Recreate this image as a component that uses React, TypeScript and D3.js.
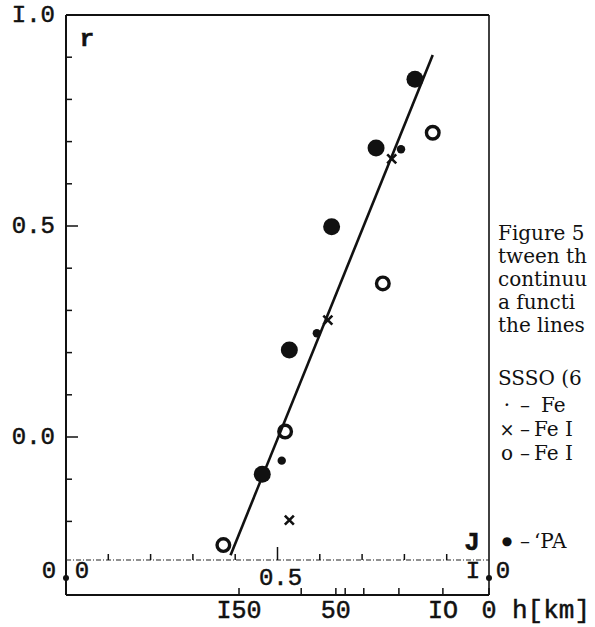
import React from 'react';
import * as d3 from 'd3';

// r axis (left)
const rTickValues = [-0.2, -0.1, 0.0, 0.1, 0.2, 0.3, 0.4, 0.5, 0.6, 0.7, 0.8, 0.9];
const rMajor = [0.0, 0.5];
const rLabelValues = [1.0, 0.5, 0.0];
const rLabelTexts = ['I.0', '0.5', '0.0'];

// J axis (dotted, inside)
const jTickValues = [0.1, 0.2, 0.3, 0.4, 0.5, 0.6, 0.7, 0.8, 0.9];

// h axis (bottom), expressed against J
const hTicks = [150, 100, 50, 40, 30, 20, 10, 0];
const hAsJ = [0.409, 0.556, 0.638, 0.66, 0.704, 0.787, 0.891, 1.0];
const hLabelValues = [150, 50, 10, 0];
const hLabelTexts = ['I50', '50', 'IO', '0'];

// series  (J, r)
const paJ = [0.825, 0.733, 0.628, 0.528, 0.464];
const paR = [0.848, 0.685, 0.498, 0.206, -0.088];
const feDotJ = [0.792, 0.593, 0.51];
const feDotR = [0.682, 0.246, -0.056];
const feOpenJ = [0.867, 0.749, 0.518, 0.372];
const feOpenR = [0.721, 0.364, 0.013, -0.256];
const feCrossJ = [0.77, 0.619, 0.528];
const feCrossR = [0.659, 0.277, -0.197];
const fitJ = [0.389, 0.867];
const fitR = [-0.28, 0.905];

const captionLines = ['Figure 5', 'tween th', 'continuu', 'a functi', 'the lines'];
const legendTitle = 'SSSO (6';
const legendMarks = ['·', '×', 'o', '●'];
const legendNames = ['Fe', 'Fe I', 'Fe I', '‘PA'];

const MONO = '"Liberation Mono", "DejaVu Sans Mono", monospace';
const SERIF = '"DejaVu Serif", "Liberation Serif", serif';

export default function App() {
  const W = 595, H = 627;
  const x = d3.scaleLinear().domain([0, 1]).range([66, 489]);
  const y = d3.scaleLinear().domain([0, 1]).range([437, 15]);
  const hx = d3.scaleLinear().domain(hTicks).range(hAsJ.map((j) => x(j)));
  const bottomY = 595;
  const jAxisY = 560;
  const line = d3.line<number>().x((_, i) => x(fitJ[i])).y((_, i) => y(fitR[i]));
  const cross = (cx: number, cy: number, s: number) => `M${cx - s},${cy - s}L${cx + s},${cy + s}M${cx - s},${cy + s}L${cx + s},${cy - s}`;
  const lab = { fontFamily: MONO, fill: '#111', stroke: '#111', strokeWidth: 0.5 } as const;
  const legendY = [412, 436, 460, 548];
  const legendMarkSize = [20, 18, 20, 12];
  const legendNameX = [541, 534, 534, 534];

  return (
    <svg width={W} height={H} style={{ position: 'absolute', left: 0, top: 0, background: '#fff' }}>
      <rect width={W} height={H} fill="#fff" />
      {/* frame */}
      <line x1={x(0)} x2={x(0)} y1={y(1)} y2={bottomY} stroke="#111" strokeWidth={2} />
      <line x1={x(0)} x2={x(1)} y1={y(1)} y2={y(1)} stroke="#111" strokeWidth={1.8} />
      <line x1={x(1)} x2={x(1)} y1={y(1)} y2={bottomY} stroke="#111" strokeWidth={1.6} />
      <line x1={x(0)} x2={x(1)} y1={bottomY} y2={bottomY} stroke="#111" strokeWidth={2} />

      {/* r ticks */}
      {rTickValues.map((v) => (
        <line key={'rt' + v} x1={x(0)} x2={x(0) + (rMajor.includes(v) ? 12 : 6)} y1={y(v)} y2={y(v)} stroke="#111" strokeWidth={1.5} />
      ))}
      {rLabelValues.map((v, i) => (
        <text key={'rl' + v} x={55} y={y(v)} textAnchor="end" dominantBaseline="central" fontSize={24} {...lab}>
          {rLabelTexts[i]}
        </text>
      ))}
      <text x={87} y={46} textAnchor="middle" fontWeight="bold" fontSize={24} {...lab}>r</text>

      {/* J axis */}
      <line x1={x(0)} x2={x(1)} y1={jAxisY} y2={jAxisY} stroke="#222" strokeWidth={1.2} strokeDasharray="5 2 1 2" />
      {jTickValues.map((v) => (
        <line key={'jt' + v} x1={x(v)} x2={x(v)} y1={jAxisY} y2={jAxisY - (v === 0.5 ? 13 : 6)} stroke="#111" strokeWidth={1.5} />
      ))}
      <text x={49} y={571} textAnchor="middle" dominantBaseline="central" fontSize={24} {...lab}>0</text>
      <circle cx={x(0)} cy={578} r={3} fill="#111" />
      <text x={82} y={571} textAnchor="middle" dominantBaseline="central" fontSize={24} {...lab}>0</text>
      <text x={x(0.5) + 3} y={578} textAnchor="middle" dominantBaseline="central" fontSize={24} {...lab}>0.5</text>
      <text x={473} y={571} textAnchor="middle" dominantBaseline="central" fontSize={24} {...lab}>I</text>
      <circle cx={x(1)} cy={578} r={3} fill="#111" />
      <text x={503} y={571} textAnchor="middle" dominantBaseline="central" fontSize={24} {...lab}>0</text>
      <text x={472} y={543} textAnchor="middle" dominantBaseline="central" fontWeight="bold" fontSize={26} {...lab}>J</text>

      {/* h axis */}
      {hTicks.map((v) => (
        <line key={'ht' + v} x1={hx(v)} x2={hx(v)} y1={bottomY} y2={bottomY - 7} stroke="#111" strokeWidth={1.5} />
      ))}
      {hLabelValues.map((v, i) => (
        <text key={'hl' + v} x={hx(v)} y={611} textAnchor="middle" dominantBaseline="central" fontSize={25} {...lab}>
          {hLabelTexts[i]}
        </text>
      ))}
      <text x={512} y={611} dominantBaseline="central" fontSize={26} {...lab}>h[km]</text>

      {/* fit line */}
      <path d={line(fitJ) || ''} stroke="#111" strokeWidth={2.6} fill="none" />

      {/* series */}
      {paJ.map((j, i) => (
        <circle key={'pa' + i} cx={x(j)} cy={y(paR[i])} r={8.5} fill="#111" />
      ))}
      {feDotJ.map((j, i) => (
        <circle key={'fd' + i} cx={x(j)} cy={y(feDotR[i])} r={4.2} fill="#111" />
      ))}
      {feOpenJ.map((j, i) => (
        <circle key={'fo' + i} cx={x(j)} cy={y(feOpenR[i])} r={6.3} fill="none" stroke="#111" strokeWidth={3.4} />
      ))}
      {feCrossJ.map((j, i) => (
        <path key={'fc' + i} d={cross(x(j), y(feCrossR[i]), 4.5)} stroke="#111" strokeWidth={2.6} fill="none" />
      ))}

      {/* caption text (cut off by page edge) */}
      {captionLines.map((t, i) => (
        <text key={'cap' + i} x={498} y={240 + i * 23} fontFamily={SERIF} fontSize={20} fill="#111">{t}</text>
      ))}
      <text x={498} y={385} fontFamily={SERIF} fontSize={20} fill="#111">{legendTitle}</text>
      {legendMarks.map((m, i) => (
        <g key={'lg' + i} fontFamily={SERIF} fill="#111">
          <text x={507} y={i === 3 ? legendY[i] - 3 : legendY[i]} textAnchor="middle" fontSize={legendMarkSize[i]}>{m}</text>
          <text x={520} y={legendY[i]} fontSize={20}>–</text>
          <text x={legendNameX[i]} y={legendY[i]} fontSize={20}>{legendNames[i]}</text>
        </g>
      ))}
    </svg>
  );
}
